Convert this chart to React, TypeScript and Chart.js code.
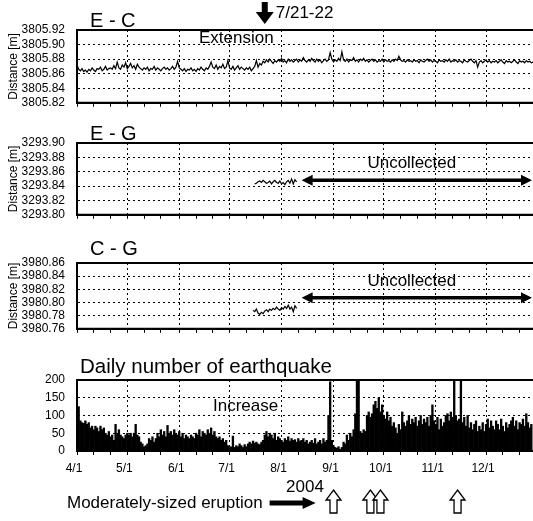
import React, { useEffect, useRef } from 'react';
import { Chart, registerables } from 'chart.js';

Chart.register(...registerables);

const FONT = "'Liberation Sans', Arial, Helvetica, sans-serif";
Chart.defaults.font.family = FONT;
Chart.defaults.font.size = 12;
Chart.defaults.color = '#000';

// ---------- data ----------
const monthStarts = ['4/1', '5/1', '6/1', '7/1', '8/1', '9/1', '10/1', '11/1', '12/1'];
const axisEnd = '12/29';

const ecTicks = [3805.82, 3805.84, 3805.86, 3805.88, 3805.9, 3805.92];
const egTicks = [3293.8, 3293.82, 3293.84, 3293.86, 3293.88, 3293.9];
const cgTicks = [3980.76, 3980.78, 3980.8, 3980.82, 3980.84, 3980.86];
const quakeTicks = [0, 50, 100, 150, 200];

const ecStart = '4/1';
const ecDistance = [
  3805.872, 3805.866, 3805.864, 3805.867, 3805.863, 3805.865, 3805.862, 3805.866, 3805.864, 3805.868,
  3805.865, 3805.863, 3805.867, 3805.866, 3805.869, 3805.864, 3805.866, 3805.870, 3805.865, 3805.867,
  3805.868, 3805.866, 3805.871, 3805.867, 3805.876, 3805.868, 3805.866, 3805.872, 3805.869, 3805.875,
  3805.867, 3805.870, 3805.874, 3805.868, 3805.871, 3805.866, 3805.873, 3805.869, 3805.867, 3805.865,
  3805.868, 3805.866, 3805.869, 3805.864, 3805.867, 3805.866, 3805.870, 3805.865, 3805.868, 3805.866,
  3805.864, 3805.867, 3805.869, 3805.866, 3805.868, 3805.865, 3805.867, 3805.870, 3805.866, 3805.869,
  3805.877, 3805.868, 3805.866, 3805.864, 3805.867, 3805.863, 3805.866, 3805.865, 3805.868, 3805.864,
  3805.866, 3805.863, 3805.867, 3805.865, 3805.869, 3805.866, 3805.864, 3805.868, 3805.866, 3805.870,
  3805.876, 3805.869, 3805.867, 3805.872, 3805.866, 3805.870, 3805.868, 3805.873, 3805.867, 3805.869,
  3805.878, 3805.868, 3805.866, 3805.870, 3805.865, 3805.868, 3805.871, 3805.866, 3805.869, 3805.867,
  3805.865, 3805.868, 3805.866, 3805.869, 3805.864, 3805.867, 3805.870, 3805.878, 3805.869, 3805.874,
  3805.872, 3805.877, 3805.875, 3805.879, 3805.876, 3805.880, 3805.877, 3805.874, 3805.878, 3805.876,
  3805.879, 3805.877, 3805.881, 3805.876, 3805.878, 3805.875, 3805.880, 3805.877, 3805.879, 3805.876,
  3805.878, 3805.880, 3805.876, 3805.879, 3805.877, 3805.882, 3805.878, 3805.876, 3805.879, 3805.877,
  3805.881, 3805.878, 3805.876, 3805.880, 3805.877, 3805.879, 3805.875, 3805.878, 3805.880, 3805.877,
  3805.879, 3805.889, 3805.880, 3805.876, 3805.879, 3805.877, 3805.881, 3805.878, 3805.890, 3805.879,
  3805.877, 3805.880, 3805.876, 3805.879, 3805.878, 3805.882, 3805.877, 3805.879, 3805.876, 3805.880,
  3805.878, 3805.881, 3805.877, 3805.879, 3805.876, 3805.878, 3805.880, 3805.877, 3805.879, 3805.876,
  3805.878, 3805.877, 3805.880, 3805.876, 3805.879, 3805.877, 3805.878, 3805.876, 3805.879, 3805.877,
  3805.880, 3805.878, 3805.884, 3805.879, 3805.877, 3805.878, 3805.876, 3805.879, 3805.877, 3805.878,
  3805.876, 3805.879, 3805.877, 3805.878, 3805.875, 3805.879, 3805.877, 3805.876, 3805.878, 3805.880,
  3805.877, 3805.879, 3805.876, 3805.878, 3805.877, 3805.875, 3805.879, 3805.877, 3805.878, 3805.876,
  3805.879, 3805.877, 3805.880, 3805.876, 3805.878, 3805.877, 3805.879, 3805.876, 3805.878, 3805.877,
  3805.875, 3805.879, 3805.877, 3805.876, 3805.878, 3805.880, 3805.877, 3805.875, 3805.878, 3805.869,
  3805.876, 3805.878, 3805.875, 3805.877, 3805.879, 3805.876, 3805.878, 3805.875, 3805.877, 3805.876,
  3805.878, 3805.875, 3805.877, 3805.879, 3805.876, 3805.874, 3805.878, 3805.876, 3805.877, 3805.875,
  3805.877, 3805.879, 3805.876, 3805.874, 3805.878, 3805.876, 3805.877, 3805.875, 3805.878, 3805.876,
  3805.877, 3805.875, 3805.876,
];

const egStart = '7/16';
const egDistance = [
  3293.843, 3293.844, 3293.846, 3293.847, 3293.845, 3293.848, 3293.846, 3293.844, 3293.845, 3293.847,
  3293.843, 3293.846, 3293.848, 3293.845, 3293.844, 3293.847, 3293.843, 3293.845, 3293.842, 3293.846,
  3293.848, 3293.844, 3293.850, 3293.843, 3293.849, 3293.846,
];

const cgStart = '7/15';
const cgDistance = [
  3980.788, 3980.786, 3980.790, 3980.784, 3980.782, 3980.785, 3980.783, 3980.787, 3980.789, 3980.786,
  3980.790, 3980.788, 3980.791, 3980.789, 3980.793, 3980.790, 3980.788, 3980.792, 3980.790, 3980.794,
  3980.791, 3980.796, 3980.790, 3980.793, 3980.786, 3980.795, 3980.791,
];

const quakeStart = '4/1';
const quakeDaily = [
  50, 125, 85, 80, 78, 85, 75, 80, 65, 70,
  60, 70, 65, 55, 70, 60, 65, 50, 45, 55,
  40, 45, 30, 75, 50, 60, 45, 40, 35, 45,
  50, 45, 50, 40, 50, 75, 45, 40, 25, 20,
  12, 15, 20, 35, 30, 40, 25, 35, 50, 40,
  60, 45, 55, 40, 72, 50, 55, 45, 60, 50,
  45, 55, 40, 50, 35, 45, 40, 35, 45, 40,
  35, 50, 45, 60, 40, 55, 50, 45, 60, 50,
  65, 45, 55, 40, 35, 40, 30, 35, 25, 30,
  15, 10, 12, 42, 10, 15, 12, 20, 15, 10,
  18, 12, 20, 25, 20, 28, 22, 25, 20, 18,
  25, 30, 45, 55, 40, 50, 45, 35, 50, 30,
  40, 35, 30, 25, 35, 30, 40, 28, 35, 30,
  32, 25, 35, 28, 30, 35, 25, 30, 20, 25,
  30, 22, 35, 20, 25, 30, 20, 35, 25, 30,
  100, 195, 30, 15, 10, 8, 12, 5, 10, 25,
  20, 45, 30, 50, 40, 60, 105, 260, 240, 55,
  50, 60, 55, 100, 110, 95, 105, 130, 140, 120,
  150, 110, 130, 100, 90, 110, 85, 95, 70, 80,
  65, 50, 75, 60, 110, 80, 70, 85, 100, 75,
  90, 80, 95, 70, 85, 100, 75, 90, 80, 95,
  70, 100, 130, 85, 75, 95, 60, 90, 70, 80,
  100, 105, 85, 110, 95, 260, 100, 85, 90, 260,
  80, 95, 70, 100, 65, 80, 60, 75, 85, 55,
  70, 60, 80, 55, 75, 90, 65, 85, 70, 60,
  85, 75, 60, 90, 70, 55, 80, 65, 75, 85,
  95, 70, 85, 60, 80, 75, 90, 70, 105, 80,
  65, 75,
];

const eventDate = '7/22';
const eventLabel = '7/21-22';
const uncollectedFrom = '8/13';
const egUncollectedLevel = 3293.848;
const cgUncollectedLevel = 3980.807;
const eruptionDates = ['9/1', '9/23', '9/29', '11/14'];

// ---------- helpers ----------
const monthLengths: Record<number, number> = { 4: 30, 5: 31, 6: 30, 7: 31, 8: 31, 9: 30, 10: 31, 11: 30, 12: 31 };
function dayIndex(md: string): number {
  const [m, d] = md.split('/').map(Number);
  let n = 0;
  for (let k = 4; k < m; k++) n += monthLengths[k];
  return n + d - 1;
}
const xMax = dayIndex(axisEnd);
const monthDays = monthStarts.map(dayIndex);
const xTickValues = monthDays.flatMap((d) => [d, d + 10, d + 20]).filter((v) => v <= xMax);
const transparent = 'rgba(0,0,0,0)';

function series(start: string, values: number[]) {
  const s = dayIndex(start);
  return values.map((y, i) => ({ x: s + i, y }));
}

function xAxis(showLabels: boolean, height: number) {
  return {
    type: 'linear',
    min: 0,
    max: xMax,
    offset: false,
    afterBuildTicks: (s: any) => {
      s.ticks = xTickValues.map((v) => ({ value: v }));
    },
    afterFit: (s: any) => {
      s.height = height;
    },
    grid: {
      offset: false,
      drawOnChartArea: true,
      drawTicks: true,
      tickLength: 4,
      tickWidth: 1,
      tickColor: '#000',
      tickBorderDash: [],
      lineWidth: 1,
      color: (c: any) =>
        c.tick && c.tick.value !== 0 && monthDays.includes(c.tick.value) ? '#000' : transparent,
    },
    border: { display: true, color: '#000', width: 2, dash: [2, 3] },
    ticks: {
      display: showLabels,
      autoSkip: false,
      maxRotation: 0,
      minRotation: 0,
      padding: 6,
      labelOffset: -3,
      color: '#000',
      font: { size: 12, family: FONT },
      callback: (v: number) => {
        const i = monthDays.indexOf(v);
        return i >= 0 ? monthStarts[i] : '';
      },
    },
  };
}

function yAxis(ticks: number[], decimals: number, titled: boolean) {
  return {
    type: 'linear',
    min: ticks[0],
    max: ticks[ticks.length - 1],
    afterBuildTicks: (s: any) => {
      s.ticks = ticks.map((v) => ({ value: v }));
    },
    afterFit: (s: any) => {
      s.width = 77;
    },
    grid: {
      drawTicks: false,
      lineWidth: 1,
      color: (c: any) => (c.index === 0 || c.index === ticks.length - 1 ? transparent : '#000'),
    },
    border: { display: true, color: '#000', width: 2, dash: [2, 3] },
    ticks: {
      autoSkip: false,
      padding: 12,
      color: '#000',
      font: { size: 12, family: FONT },
      callback: (v: number) => Number(v).toFixed(decimals),
    },
    title: {
      display: titled,
      text: 'Distance [m]',
      color: '#000',
      font: { size: 12, family: FONT },
      padding: { top: 6, bottom: 0 },
    },
  };
}

const boxPlugin = {
  id: 'box',
  afterDatasetsDraw(chart: any) {
    const { ctx, chartArea: a } = chart;
    ctx.save();
    ctx.strokeStyle = '#000';
    ctx.lineWidth = 2;
    ctx.setLineDash([]);
    ctx.beginPath();
    ctx.moveTo(a.right + 2, a.top);
    ctx.lineTo(a.left, a.top);
    ctx.lineTo(a.left, a.bottom);
    ctx.lineTo(a.right + 2, a.bottom);
    ctx.stroke();
    ctx.restore();
  },
};

function downArrow(ctx: CanvasRenderingContext2D, x: number, yTop: number, yTip: number) {
  const headH = 12, headW = 9, shaftW = 3;
  ctx.beginPath();
  ctx.moveTo(x - shaftW, yTop);
  ctx.lineTo(x + shaftW, yTop);
  ctx.lineTo(x + shaftW, yTip - headH);
  ctx.lineTo(x + headW, yTip - headH);
  ctx.lineTo(x, yTip);
  ctx.lineTo(x - headW, yTip - headH);
  ctx.lineTo(x - shaftW, yTip - headH);
  ctx.closePath();
  ctx.fill();
}

function doubleArrow(ctx: CanvasRenderingContext2D, x1: number, x2: number, y: number) {
  const hl = 11, hw = 5.5;
  ctx.lineWidth = 3.5;
  ctx.beginPath();
  ctx.moveTo(x1 + hl - 2, y);
  ctx.lineTo(x2 - hl + 2, y);
  ctx.stroke();
  ctx.beginPath();
  ctx.moveTo(x1, y);
  ctx.lineTo(x1 + hl, y - hw);
  ctx.lineTo(x1 + hl, y + hw);
  ctx.closePath();
  ctx.fill();
  ctx.beginPath();
  ctx.moveTo(x2, y);
  ctx.lineTo(x2 - hl, y - hw);
  ctx.lineTo(x2 - hl, y + hw);
  ctx.closePath();
  ctx.fill();
}

function upHollowArrow(ctx: CanvasRenderingContext2D, x: number, yTip: number, yBottom: number) {
  const headH = 10, headW = 7.5, shaftW = 3.5;
  ctx.beginPath();
  ctx.moveTo(x, yTip);
  ctx.lineTo(x + headW, yTip + headH);
  ctx.lineTo(x + shaftW, yTip + headH);
  ctx.lineTo(x + shaftW, yBottom);
  ctx.lineTo(x - shaftW, yBottom);
  ctx.lineTo(x - shaftW, yTip + headH);
  ctx.lineTo(x - headW, yTip + headH);
  ctx.closePath();
  ctx.fillStyle = '#fff';
  ctx.fill();
  ctx.lineWidth = 1.3;
  ctx.strokeStyle = '#000';
  ctx.stroke();
}

function titleText(ctx: CanvasRenderingContext2D, text: string, x: number, y: number, size: number) {
  ctx.font = `${size}px ${FONT}`;
  ctx.textAlign = 'left';
  ctx.textBaseline = 'alphabetic';
  ctx.fillStyle = '#000';
  ctx.fillText(text, x, y);
}

const ecNotes = {
  id: 'ecNotes',
  afterDraw(chart: any) {
    const { ctx, chartArea: a, scales } = chart;
    ctx.save();
    titleText(ctx, 'E - C', 90, a.top - 3, 20);
    ctx.font = `17px ${FONT}`;
    ctx.textBaseline = 'middle';
    ctx.fillText('Extension', 199, a.top + 8);
    const ex = scales.x.getPixelForValue(dayIndex(eventDate));
    ctx.fillStyle = '#000';
    downArrow(ctx, ex, 2, a.top - 6);
    ctx.textBaseline = 'middle';
    ctx.fillText(eventLabel, ex + 11, 13);
    ctx.restore();
  },
};

function distanceNotes(id: string, title: string, titleGap: number, level: number) {
  return {
    id,
    afterDraw(chart: any) {
      const { ctx, chartArea: a, scales } = chart;
      ctx.save();
      titleText(ctx, title, 90, a.top - titleGap, 20);
      const x1 = scales.x.getPixelForValue(dayIndex(uncollectedFrom));
      const x2 = a.right - 1;
      const y = scales.y.getPixelForValue(level);
      ctx.fillStyle = '#000';
      ctx.strokeStyle = '#000';
      doubleArrow(ctx, x1, x2, y);
      ctx.font = `17px ${FONT}`;
      ctx.textAlign = 'center';
      ctx.textBaseline = 'middle';
      ctx.fillText('Uncollected', (x1 + x2) / 2 - 5, y - 17);
      ctx.restore();
    },
  };
}

const quakeNotes = {
  id: 'quakeNotes',
  afterDraw(chart: any) {
    const { ctx, chartArea: a, scales } = chart;
    ctx.save();
    titleText(ctx, 'Daily number of earthquake', 80, a.top - 7, 20.5);
    ctx.font = `17px ${FONT}`;
    ctx.textBaseline = 'middle';
    ctx.fillText('Increase', 213, a.top + 26);
    ctx.textAlign = 'center';
    ctx.fillText('2004', (a.left + a.right) / 2, a.bottom + 36);
    ctx.textAlign = 'left';
    const label = 'Moderately-sized eruption';
    const ty = a.bottom + 52;
    ctx.fillText(label, 67, ty);
    const tEnd = 67 + ctx.measureText(label).width;
    const s = tEnd + 7, e = s + 46;
    ctx.fillRect(s, ty - 2.5, e - s - 12, 5);
    ctx.beginPath();
    ctx.moveTo(e, ty);
    ctx.lineTo(e - 13, ty - 6);
    ctx.lineTo(e - 13, ty + 6);
    ctx.closePath();
    ctx.fill();
    eruptionDates.forEach((d) => {
      const x = scales.x.getPixelForValue(dayIndex(d));
      upHollowArrow(ctx, x, a.bottom + 39, a.bottom + 62);
    });
    ctx.restore();
  },
};

const baseOptions = (padTop: number) => ({
  responsive: false,
  animation: false,
  events: [],
  layout: { padding: { top: padTop, right: 0, bottom: 0, left: 0 } },
  plugins: { legend: { display: false }, tooltip: { enabled: false }, title: { display: false } },
});

const lineStyle = { borderColor: '#000', borderWidth: 1.2, pointRadius: 0, tension: 0, fill: false };

const makeEC = () => ({
  type: 'line',
  data: { datasets: [{ data: series(ecStart, ecDistance), ...lineStyle }] },
  options: { ...baseOptions(30), scales: { x: xAxis(false, 14), y: yAxis(ecTicks, 2, true) } },
  plugins: [boxPlugin, ecNotes],
});

const makeEG = () => ({
  type: 'line',
  data: { datasets: [{ data: series(egStart, egDistance), ...lineStyle }] },
  options: { ...baseOptions(21), scales: { x: xAxis(false, 14), y: yAxis(egTicks, 2, true) } },
  plugins: [boxPlugin, distanceNotes('egNotes', 'E - G', 3, egUncollectedLevel)],
});

const makeCG = () => ({
  type: 'line',
  data: { datasets: [{ data: series(cgStart, cgDistance), ...lineStyle }] },
  options: { ...baseOptions(29), scales: { x: xAxis(false, 12), y: yAxis(cgTicks, 2, true) } },
  plugins: [boxPlugin, distanceNotes('cgNotes', 'C - G', 8, cgUncollectedLevel)],
});

const makeQuake = () => ({
  type: 'bar',
  data: {
    datasets: [
      {
        data: series(quakeStart, quakeDaily),
        backgroundColor: '#000',
        borderWidth: 0,
        barPercentage: 1,
        categoryPercentage: 1,
      },
    ],
  },
  options: { ...baseOptions(32), scales: { x: xAxis(true, 70), y: yAxis(quakeTicks, 0, false) } },
  plugins: [boxPlugin, quakeNotes],
});

function ChartCanvas({ top, height, make }: { top: number; height: number; make: () => any }) {
  const ref = useRef<HTMLCanvasElement>(null);
  useEffect(() => {
    const chart = new Chart(ref.current as HTMLCanvasElement, make());
    return () => chart.destroy();
  }, []);
  return (
    <canvas
      ref={ref}
      width={533}
      height={height}
      style={{ position: 'absolute', left: 0, top, width: 533, height, display: 'block' }}
    />
  );
}

export default function App() {
  return (
    <div style={{ position: 'fixed', left: 0, top: 0, width: 533, height: 521, background: '#fff', overflow: 'hidden' }}>
      <ChartCanvas top={0} height={122} make={makeEC} />
      <ChartCanvas top={122} height={112} make={makeEG} />
      <ChartCanvas top={234} height={114} make={makeCG} />
      <ChartCanvas top={348} height={173} make={makeQuake} />
    </div>
  );
}
